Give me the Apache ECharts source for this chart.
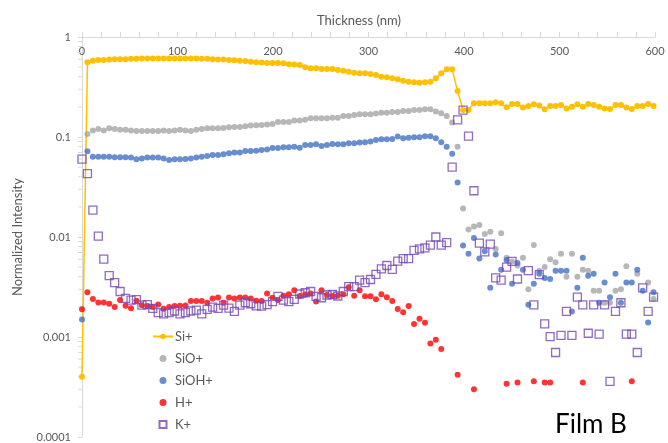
<!DOCTYPE html>
<html>
<head>
<meta charset="utf-8">
<script src="https://cdn.jsdelivr.net/npm/echarts@6/dist/echarts.min.js"></script>
<style>
  html, body { margin: 0; padding: 0; background: #ffffff; }
  #chart { width: 668px; height: 443px; }
</style>
</head>
<body>
<div id="chart"></div>
<script>
// Sputter depth of each profile point (nm)
const thickness = [0, 5.7, 11.4, 17.1, 22.8, 28.5, 34.2, 39.9, 45.6, 51.3, 57, 62.7, 68.4, 74.1, 79.8, 85.5, 91.2, 96.9, 102.6, 108.3, 114, 119.7, 125.4, 131.1, 136.8, 142.5, 148.2, 153.9, 159.6, 165.3, 171, 176.7, 182.4, 188.1, 193.8, 199.5, 205.2, 210.9, 216.6, 222.3, 228, 233.7, 239.4, 245.1, 250.8, 256.5, 262.2, 267.9, 273.6, 279.3, 285, 290.7, 296.4, 302.1, 307.8, 313.5, 319.2, 324.9, 330.6, 336.3, 342, 347.7, 353.4, 359.1, 364.8, 370.5, 376.2, 381.9, 387.6, 393.3, 399, 404.7, 410.4, 416.1, 421.8, 427.5, 433.2, 438.9, 444.6, 450.3, 456, 461.7, 467.4, 473.1, 478.8, 484.5, 490.2, 495.9, 501.6, 507.3, 513, 518.7, 524.4, 530.1, 535.8, 541.5, 547.2, 552.9, 558.6, 564.3, 570, 575.7, 581.4, 587.1, 592.8, 598.5];

// Normalized intensities per ion (null = no counts at that depth)
const siPlus = [0.0004, 0.56, 0.58, 0.59, 0.59, 0.595, 0.60, 0.60, 0.60, 0.605, 0.605, 0.61, 0.61, 0.61, 0.61, 0.61, 0.61, 0.61, 0.61, 0.61, 0.61, 0.61, 0.605, 0.605, 0.60, 0.595, 0.595, 0.59, 0.585, 0.58, 0.575, 0.566, 0.56, 0.555, 0.55, 0.55, 0.55, 0.545, 0.535, 0.53,
  0.525, 0.497, 0.486, 0.486, 0.479, 0.479, 0.479, 0.468, 0.46, 0.45, 0.44, 0.434, 0.434, 0.427, 0.417, 0.40, 0.395, 0.386, 0.377, 0.365, 0.357, 0.352, 0.349, 0.352, 0.357, 0.386, 0.434, 0.475, 0.475, 0.288, 0.186, 0.186, 0.218,
  0.217, 0.217, 0.217, 0.222, 0.217, 0.198, 0.214, 0.214, 0.197, 0.204, 0.212, 0.206, 0.189, 0.204, 0.204, 0.209, 0.193, 0.201, 0.212, 0.201, 0.214, 0.209, 0.201, 0.193, 0.19, 0.209, 0.209, 0.197, 0.19, 0.204, 0.204, 0.214, 0.204];

const sioPlus = [null, 0.107, 0.116, 0.12, 0.116, 0.122, 0.12, 0.118, 0.118, 0.116, 0.115, 0.115, 0.115, 0.115, 0.115, 0.116, 0.115, 0.116, 0.118, 0.116, 0.115, 0.118, 0.12, 0.122, 0.122, 0.122, 0.123, 0.125, 0.126, 0.126, 0.128, 0.130, 0.131, 0.132, 0.133, 0.135, 0.141, 0.141, 0.141, 0.146,
  0.146, 0.149, 0.154, 0.154, 0.154, 0.154, 0.156, 0.156, 0.162, 0.162, 0.166, 0.169, 0.169, 0.169, 0.172, 0.175, 0.175, 0.178, 0.178, 0.182, 0.182, 0.186, 0.186, 0.189, 0.189, 0.18, 0.173, 0.162, 0.14, 0.080,
  0.0193, 0.0119, 0.0127, 0.0132, 0.0107, 0.0113, 0.0076, 0.0109, 0.0062, 0.0057, 0.0052, 0.0062, 0.0030, 0.0083, 0.0046, 0.0050, 0.0060, 0.0056, 0.0068, 0.0040, 0.0068, 0.0040, 0.0047, 0.0046, 0.0029, 0.0029, 0.0022, 0.0022, 0.0029, 0.0030, 0.0051, null, 0.0043, null, 0.0035, 0.0024];

const siohPlus = [0.0015, 0.072, 0.0636, 0.0636, 0.0636, 0.0636, 0.0629, 0.0629, 0.0629, 0.0622, 0.0599, 0.0609, 0.0622, 0.0622, 0.0622, 0.0609, 0.0589, 0.0599, 0.0599, 0.0604, 0.0609, 0.0622, 0.0636, 0.0645, 0.0661, 0.0661, 0.0672, 0.0687, 0.070, 0.070, 0.0724, 0.0724, 0.073, 0.074, 0.0752, 0.0777, 0.0777, 0.079, 0.079, 0.080,
  0.0779, 0.0832, 0.0832, 0.0846, 0.0813, 0.0832, 0.0851, 0.0846, 0.0846, 0.0865, 0.0865, 0.088, 0.0885, 0.0899, 0.0933, 0.0947, 0.0947, 0.0955, 0.101, 0.0972, 0.0984, 0.0992, 0.0992, 0.102, 0.102, 0.0972, 0.0885, 0.080, 0.068, 0.035,
  0.0082, 0.0068, 0.0098, 0.0061, 0.0072, 0.0031, 0.0067, 0.0047, 0.0059, 0.0034, 0.0055, 0.0047, 0.0021, 0.0034, 0.0043, 0.0039, 0.0038, 0.0046, 0.0046, 0.0046, 0.0018, 0.0031, 0.0062, 0.0041, 0.0043,
  0.0022, 0.0035, 0.0025, 0.0043, 0.0022, 0.0035, 0.0035, 0.0047, 0.0029, 0.0014, 0.0028];

const hPlus = [0.00189, 0.0028, 0.0024, 0.00221, 0.00221, 0.00215, 0.00199, 0.00234, 0.00205, 0.00194, 0.00230, 0.00208, 0.00204, 0.00199, 0.00211, 0.00192, 0.00199, 0.00204, 0.00205, 0.00206, 0.00229, 0.00229, 0.00229, 0.00220, 0.00243, 0.00248, 0.00220, 0.00248, 0.00243, 0.00248, 0.00248, 0.00243, 0.00230, 0.00229, 0.00273, 0.00247, 0.00234, 0.00259, 0.00268, 0.00294,
  0.00257, 0.00266, 0.00273, 0.00226, 0.00294, 0.00263, 0.00257, 0.00259, 0.00268, 0.00315, 0.00259, 0.00294, 0.00255, 0.00255, 0.00238, 0.00268, 0.0025, 0.00229, 0.00191, 0.00177, 0.00204, 0.00135, 0.00152, 0.00139, 0.00086, 0.00094, 0.00076, null, null, 0.00042,
  null, null, 0.00030, null, null, null, null, null, 0.00034, null, 0.00035, null, null, 0.00036, null, 0.00035, 0.00035, null, null, null, null, null, 0.00035, null, null, null, null, null, null, null, null, 0.00036, null, null, null, null];

const kPlus = [0.060, 0.043, 0.0186, 0.0102, 0.0060, 0.0041, 0.0035, 0.00285, 0.00243, 0.00234, 0.00237, 0.00208, 0.00211, 0.00193, 0.00175, 0.0017, 0.00175, 0.00182, 0.0017, 0.00175, 0.00182, 0.00186, 0.0017, 0.00189, 0.00199, 0.00193, 0.00208, 0.00194, 0.0018, 0.00208, 0.0022, 0.00215, 0.00205, 0.00204, 0.00211, 0.00226, 0.00255, 0.00234, 0.00226, 0.00238,
  0.00269, 0.00277, 0.00285, 0.00255, 0.00247, 0.00263, 0.00266, 0.00257, 0.00285, 0.00319, 0.00319, 0.00371, 0.00350, 0.00376, 0.00422, 0.00481, 0.00519, 0.00475, 0.00575, 0.00608, 0.00608, 0.00735, 0.0076, 0.0078, 0.0083, 0.0100, 0.0083, 0.0088,
  0.050, 0.148, 0.186, 0.102, 0.029, 0.0087, 0.0071, 0.0085, 0.0039, 0.0037, 0.0050, 0.0057, 0.0038, null, 0.0046, 0.0021, 0.0042, 0.00135, 0.00101, 0.00070, 0.00104, 0.0018, 0.00104, 0.0025, 0.0021, 0.00109, 0.0021, 0.00107, 0.0021, 0.00036, 0.0018, 0.0022, 0.00107, 0.00107, 0.00070, 0.0031, 0.0018, 0.0025];

// Axis ticks
const xTicks = [0, 100, 200, 300, 400, 500, 600];
const yTickLabels = { 1: '1', 0.1: '0.1', 0.01: '0.01', 0.001: '0.001', 0.0001: '0.0001' };
const yMinorMantissas = [2, 3, 4, 5, 6, 7, 8, 9];
const yDecades = [0.0001, 0.001, 0.01, 0.1];

const seriesNames = ['Si+', 'SiO+', 'SiOH+', 'H+', 'K+'];
const colors = { 'Si+': '#FFC000', 'SiO+': '#A5A5A5', 'SiOH+': '#4472C4', 'H+': '#FF0000', 'K+': '#7446B0' };

const FONT = 'Lato';
const AXIS_GREY = '#D9D9D9';
const TEXT_GREY = '#595959';
const SQUARE_ICON = 'path://M0 0H10V10H0Z';

function pairs(values) {
  const out = [];
  values.forEach((v, i) => { if (v !== null) out.push([thickness[i], v]); });
  return out;
}

const minorTickValues = [];
yDecades.forEach(d => yMinorMantissas.forEach(m => minorTickValues.push([0, +(m * d).toPrecision(3)])));

const chart = echarts.init(document.getElementById('chart'), null, { renderer: 'canvas' });

chart.setOption({
  animation: false,
  backgroundColor: '#ffffff',
  textStyle: { fontFamily: FONT },
  grid: { left: 82, right: 13, top: 37, bottom: 6, containLabel: false },
  title: {
    text: 'Thickness (nm)',
    left: 312, top: 9,
    textStyle: { fontFamily: FONT, fontSize: 13, fontWeight: 'normal', color: TEXT_GREY }
  },
  graphic: [{
    type: 'text', left: 555, top: 412,
    style: { text: 'Film B', font: '26px Lato', fill: '#000000' }
  }],
  legend: {
    orient: 'vertical',
    left: 147, top: 325,
    itemWidth: 20, itemHeight: 7, itemGap: 9,
    symbolKeepAspect: true,
    textStyle: { fontFamily: FONT, fontSize: 13, color: TEXT_GREY, padding: [0, 0, 0, -3] },
    data: seriesNames.map(n => n === 'K+' ? { name: n, icon: SQUARE_ICON } : n)
  },
  xAxis: {
    type: 'value', position: 'top',
    min: 0, max: 600, interval: 100,
    axisLine: { show: true, lineStyle: { color: AXIS_GREY, width: 1 } },
    axisTick: { show: true, length: 5, lineStyle: { color: AXIS_GREY } },
    minorTick: { show: true, splitNumber: 5, length: 5, lineStyle: { color: AXIS_GREY } },
    splitLine: { show: false },
    axisLabel: {
      inside: true, margin: 9, fontFamily: FONT, fontSize: 11, color: TEXT_GREY,
      formatter: v => xTicks.includes(v) ? String(v) : ''
    }
  },
  yAxis: {
    type: 'log', logBase: 10, min: 0.0001, max: 1,
    name: 'Normalized Intensity', nameLocation: 'middle', nameGap: 58,
    nameTextStyle: { fontFamily: FONT, fontSize: 13, color: TEXT_GREY },
    axisLine: { show: true, lineStyle: { color: AXIS_GREY, width: 1 } },
    axisTick: { show: true, length: 4, lineStyle: { color: AXIS_GREY } },
    splitLine: { show: false },
    axisLabel: {
      margin: 11, fontFamily: FONT, fontSize: 11, color: TEXT_GREY,
      formatter: v => yTickLabels[+v.toPrecision(3)] || ''
    }
  },
  series: [
    {
      // log-scale minor tick marks along the intensity axis
      type: 'custom', name: 'minorTicks', silent: true, clip: false, z: 1,
      data: minorTickValues,
      renderItem: (params, api) => {
        const p = api.coord([0, api.value(1)]);
        return { type: 'line', shape: { x1: p[0] - 4, y1: p[1], x2: p[0], y2: p[1] }, style: { stroke: AXIS_GREY, lineWidth: 1 } };
      }
    },
    {
      name: 'Si+', type: 'line', data: pairs(siPlus),
      symbol: 'circle', symbolSize: 6, showSymbol: true,
      lineStyle: { color: colors['Si+'], width: 1.5 },
      itemStyle: { color: colors['Si+'] }, z: 2
    },
    {
      name: 'SiO+', type: 'scatter', data: pairs(sioPlus),
      symbol: 'circle', symbolSize: 6, itemStyle: { color: colors['SiO+'] }, z: 3
    },
    {
      name: 'SiOH+', type: 'scatter', data: pairs(siohPlus),
      symbol: 'circle', symbolSize: 6, itemStyle: { color: colors['SiOH+'] }, z: 4
    },
    {
      name: 'H+', type: 'scatter', data: pairs(hPlus),
      symbol: 'circle', symbolSize: 6, itemStyle: { color: colors['H+'] }, z: 5
    },
    {
      name: 'K+', type: 'scatter', data: pairs(kPlus),
      symbol: 'rect', symbolSize: 8,
      itemStyle: { color: 'rgba(255,255,255,0)', borderColor: colors['K+'], borderWidth: 1.3 }, z: 6
    }
  ]
});
</script>
</body>
</html>
